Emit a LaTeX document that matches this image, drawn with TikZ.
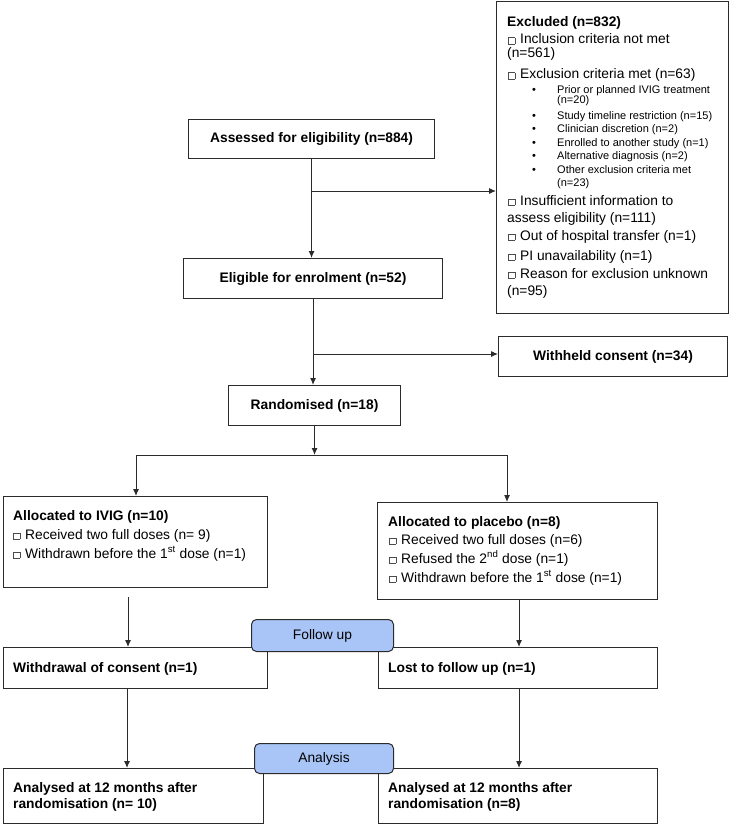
\documentclass[tikz,border=0pt]{standalone}
\usepackage{fontspec}
\setmainfont{Liberation Sans}
\usetikzlibrary{arrows.meta}
\definecolor{bord}{HTML}{2B2B2B}
\definecolor{pillc}{HTML}{A9C5F7}
\newcommand{\bigf}{\fontsize{13.8}{16}\selectfont}
\newcommand{\smallf}{\fontsize{11}{13}\selectfont}
\newcommand{\sqb}{{\color{black!70}\setlength{\fboxsep}{0pt}\setlength{\fboxrule}{0.5pt}\fbox{\rule{0pt}{6pt}\rule{6pt}{0pt}}}\hspace{5pt}}
\tikzset{
  box/.style={draw=bord, line width=1.1pt, inner sep=0pt, anchor=north west, font=\bigf\bfseries},
  txt/.style={anchor=base west, inner sep=0pt, font=\bigf},
  btxt/.style={anchor=base west, inner sep=0pt, font=\bigf\bfseries},
  stxt/.style={anchor=base west, inner sep=0pt, font=\smallf},
  arr/.style={draw=bord, line width=1pt, -{Latex[length=7pt,width=6pt]}},
  ln/.style={draw=bord, line width=1pt},
  pillbox/.style={draw=bord, fill=pillc, rounded corners=5pt, line width=1pt, inner sep=0pt, anchor=north west, font=\bigf}
}
\begin{document}
\begin{tikzpicture}[x=1pt,y=-1pt]
\useasboundingbox (0,0) rectangle (730,829);
% boxes
\node[box, minimum width=232pt, minimum height=312pt] (excl) at (496,1) {};
\node[box, minimum width=246pt, minimum height=39pt] (assess) at (188,119) {Assessed for eligibility (n=884)};
\node[box, minimum width=259pt, minimum height=40pt] (elig) at (183,258) {Eligible for enrolment (n=52)};
\node[box, minimum width=229pt, minimum height=40pt] (withheld) at (498,336) {Withheld consent (n=34)};
\node[box, minimum width=172pt, minimum height=40pt] (rand) at (228,385) {Randomised (n=18)};
\node[box, minimum width=264pt, minimum height=91pt] (ivig) at (3,496) {};
\node[box, minimum width=280pt, minimum height=97pt] (placebo) at (377,502) {};
\node[box, minimum width=264pt, minimum height=41pt] (withdraw) at (3,647) {};
\node[box, minimum width=279pt, minimum height=41pt] (lost) at (378,647) {};
\node[box, minimum width=260pt, minimum height=55pt] (anL) at (3,768) {};
\node[box, minimum width=279pt, minimum height=55pt] (anR) at (378,768) {};

% excluded text
\node[btxt] (e1) at (507,27) {Excluded (n=832)};
\node[txt] (e2) at (508,44) {\sqb Inclusion criteria not met};
\node[txt] (e3) at (507,58) {(n=561)};
\node[txt] (e4) at (508,79) {\sqb Exclusion criteria met (n=63)};
\node[stxt] (b1) at (532,94) {•};
\node[stxt] (s1) at (557,94) {Prior or planned IVIG treatment};
\node[stxt] (s1b) at (557,104) {(n=20)};
\node[stxt] (b2) at (532,120) {•};
\node[stxt] (s2) at (557,120) {Study timeline restriction (n=15)};
\node[stxt] (b3) at (532,133) {•};
\node[stxt] (s3) at (557,133) {Clinician discretion (n=2)};
\node[stxt] (b4) at (532,147) {•};
\node[stxt] (s4) at (557,147) {Enrolled to another study (n=1)};
\node[stxt] (b5) at (532,160) {•};
\node[stxt] (s5) at (557,160) {Alternative diagnosis (n=2)};
\node[stxt] (b6) at (532,174) {•};
\node[stxt] (s6) at (557,174) {Other exclusion criteria met};
\node[stxt] (s6b) at (557,186) {(n=23)};
\node[txt] (e5) at (508,205) {\sqb Insufficient information to};
\node[txt] (e6) at (507,222) {assess eligibility (n=111)};
\node[txt] (e7) at (508,240) {\sqb Out of hospital transfer (n=1)};
\node[txt] (e8) at (508,260) {\sqb PI unavailability (n=1)};
\node[txt] (e9) at (508,278) {\sqb Reason for exclusion unknown};
\node[txt] (e10) at (507,295) {(n=95)};

% IVIG text
\node[btxt] (i1) at (13,520) {Allocated to IVIG (n=10)};
\node[txt] (i2) at (13,539) {\sqb Received two full doses (n= 9)};
\node[txt] (i3) at (13,558) {\sqb Withdrawn before the 1\textsuperscript{st} dose (n=1)};
% placebo text
\node[btxt] (p1) at (388,526) {Allocated to placebo (n=8)};
\node[txt] (p2) at (389,544) {\sqb Received two full doses (n=6)};
\node[txt] (p3) at (389,563) {\sqb Refused the 2\textsuperscript{nd} dose (n=1)};
\node[txt] (p4) at (389,582) {\sqb Withdrawn before the 1\textsuperscript{st} dose (n=1)};
% follow-up texts
\node[btxt] (w1) at (13,672) {Withdrawal of consent (n=1)};
\node[btxt] (l1) at (388,672) {Lost to follow up (n=1)};
\node[btxt] (a1) at (13,792) {Analysed at 12 months after};
\node[btxt] (a2) at (13,808) {randomisation (n= 10)};
\node[btxt] (r1) at (388,792) {Analysed at 12 months after};
\node[btxt] (r2) at (388,808) {randomisation (n=8)};

% connectors
\coordinate (j1) at (313,191);
\draw[arr] (assess.south) -- (assess.south |- elig.north);
\draw[arr] (assess.south |- j1) -- (j1 -| excl.west);
\coordinate (j2) at (313,354);
\draw[arr] (elig.south) -- (elig.south |- rand.north);
\draw[arr] (elig.south |- j2) -- (j2 -| withheld.west);
\coordinate (bl) at (136,455);
\coordinate (brr) at (507,455);
\draw[arr] (rand.south) -- (rand.south |- bl);
\draw[ln] (bl) -- (brr);
\draw[arr] (bl) -- (bl |- ivig.north);
\draw[arr] (brr) -- (brr |- placebo.north);
\coordinate (c1) at (128,597);
\coordinate (c2) at (519,0);
\coordinate (c3) at (127,0);
\draw[arr] (c1) -- (c1 |- withdraw.north);
\draw[arr] (placebo.south -| c2) -- (lost.north -| c2);
\draw[arr] (withdraw.south -| c3) -- (anL.north -| c3);
\draw[arr] (lost.south -| c2) -- (anR.north -| c2);

% pills
\node[pillbox, minimum width=142pt, minimum height=32pt] (follow) at (251,619) {Follow up};
\node[pillbox, minimum width=139pt, minimum height=30pt] (analysis) at (254,743) {Analysis};
\end{tikzpicture}
\end{document}
